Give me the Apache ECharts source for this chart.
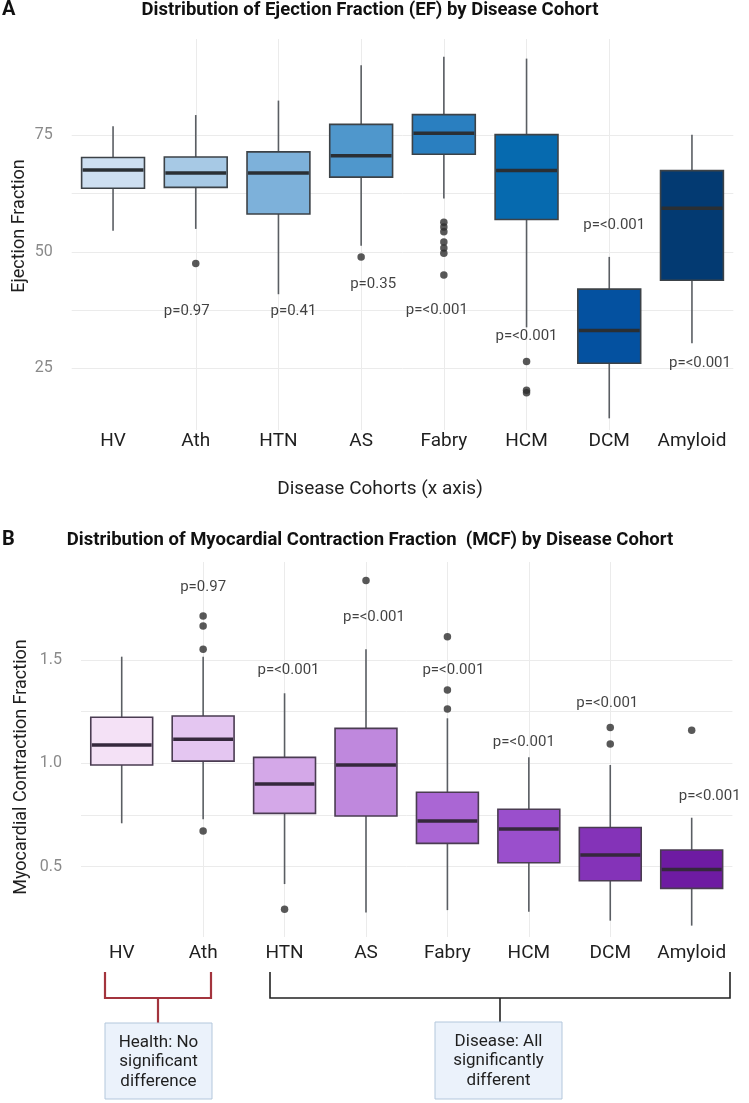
<!DOCTYPE html>
<html>
<head>
<meta charset="utf-8">
<title>EF and MCF by disease cohort</title>
<script src="https://cdn.jsdelivr.net/npm/echarts@6/dist/echarts.min.js"></script>
<style>
  html, body { margin: 0; padding: 0; background: #fff; }
  #chart { width: 749px; height: 1103px; }
</style>
</head>
<body>
<div id="chart"></div>
<script>
const cohorts = ['HV', 'Ath', 'HTN', 'AS', 'Fabry', 'HCM', 'DCM', 'Amyloid'];

// A: ejection fraction, [whisker low, Q1, median, Q3, whisker high]
const efBoxes = [
  [54.5, 63.6, 67.5, 70.2, 76.9],
  [54.9, 63.8, 66.9, 70.3, 79.3],
  [40.9, 58.1, 66.9, 71.4, 82.4],
  [51.3, 66.0, 70.6, 77.3, 90.0],
  [61.4, 70.9, 75.4, 79.4, 91.8],
  [33.8, 56.9, 67.4, 75.1, 91.4],
  [14.3, 26.1, 33.1, 42.0, 48.9],
  [30.4, 43.9, 59.3, 67.4, 75.1]
];
const efOutliers = [
  ['Ath', 47.5], ['AS', 48.9],
  ['Fabry', 56.3], ['Fabry', 55.3], ['Fabry', 54.3], ['Fabry', 52.1],
  ['Fabry', 50.8], ['Fabry', 49.7], ['Fabry', 45.0],
  ['HCM', 26.5], ['HCM', 20.3], ['HCM', 19.8]
];
const pCohorts = ['Ath', 'HTN', 'AS', 'Fabry', 'HCM', 'DCM', 'Amyloid'];
const efPText = ['p=0.97', 'p=0.41', 'p=0.35', 'p=<0.001', 'p=<0.001', 'p=<0.001', 'p=<0.001'];
const efPY = [37.3, 37.3, 43.1, 37.4, 31.8, 55.7, 26.1];
const efTicks = [12.5, 25, 37.5, 50, 62.5, 75, 87.5];
const efTickLabels = [25, 50, 75];

// B: myocardial contraction fraction
const mcfBoxes = [
  [0.710, 0.992, 1.089, 1.223, 1.516],
  [0.729, 1.011, 1.116, 1.229, 1.516],
  [0.416, 0.758, 0.900, 1.029, 1.339],
  [0.278, 0.745, 0.992, 1.169, 1.552],
  [0.290, 0.613, 0.721, 0.860, 1.218],
  [0.282, 0.519, 0.682, 0.778, 1.029],
  [0.239, 0.432, 0.557, 0.690, 0.992],
  [0.215, 0.395, 0.487, 0.581, 0.737]
];
const mcfOutliers = [
  ['Ath', 1.713], ['Ath', 1.664], ['Ath', 1.552], ['Ath', 0.673],
  ['HTN', 0.294], ['AS', 1.885],
  ['Fabry', 1.613], ['Fabry', 1.355], ['Fabry', 1.263],
  ['DCM', 1.173], ['DCM', 1.094], ['Amyloid', 1.160]
];
const mcfPText = ['p=0.97', 'p=<0.001', 'p=<0.001', 'p=<0.001', 'p=<0.001', 'p=<0.001', 'p=<0.001'];
const mcfPY = [1.853, 1.452, 1.707, 1.452, 1.100, 1.293, 0.842];
const mcfTicks = [0.25, 0.5, 0.75, 1.0, 1.25, 1.5, 1.75];
const mcfTickLabels = [0.5, 1.0, 1.5];

// styling
const blues = ['#cddff1', '#a7c9e5', '#7db1da', '#4f97cc', '#2a7fc0', '#066aaf', '#0451a0', '#033a72'];
const purples = ['#f4e1f6', '#e4c6f1', '#d4a8e8', '#bf88dd', '#aa66d4', '#9a4fcc', '#8433b8', '#6e1ba2'];
// horizontal nudge of the p labels (px)
const efPShift = [-9, 15, 12, -7, 0, 5, 8];
const mcfPShift = [0, 4, 8, 6, -5, -3, 18];

const font = 'Roboto, "Noto Sans", sans-serif';
const gridColor = '#ebebeb';

const chart = echarts.init(document.getElementById('chart'));

function boxRender(colors, stroke, medianColor) {
  return function (params, api) {
    const x = api.value(0);
    const low = api.coord([x, api.value(1)]);
    const q1 = api.coord([x, api.value(2)]);
    const med = api.coord([x, api.value(3)]);
    const q3 = api.coord([x, api.value(4)]);
    const high = api.coord([x, api.value(5)]);
    const half = api.size([1, 0])[0] * 0.38;
    const cx = q1[0];
    return {
      type: 'group',
      children: [
        { type: 'line', shape: { x1: cx, y1: high[1], x2: cx, y2: q3[1] }, style: { stroke: '#5a5e63', lineWidth: 1.6 } },
        { type: 'line', shape: { x1: cx, y1: q1[1], x2: cx, y2: low[1] }, style: { stroke: '#5a5e63', lineWidth: 1.6 } },
        { type: 'rect', shape: { x: cx - half, y: q3[1], width: half * 2, height: q1[1] - q3[1] },
          style: { fill: colors[params.dataIndex], stroke: stroke, lineWidth: 1.6 } },
        { type: 'line', shape: { x1: cx - half + 1, y1: med[1], x2: cx + half - 1, y2: med[1] },
          style: { stroke: medianColor, lineWidth: 3.5 } }
      ]
    };
  };
}

function pLabels(texts, ys, shifts, gi) {
  return {
    type: 'scatter',
    xAxisIndex: gi * 2,
    yAxisIndex: gi,
    symbolSize: 1,
    itemStyle: { color: 'rgba(0,0,0,0)' },
    z: 5,
    silent: true,
    data: pCohorts.map((c, i) => ({
      name: texts[i],
      value: [c, ys[i]],
      label: { offset: [shifts[i], 0] }
    })),
    label: {
      show: true, position: 'inside', formatter: '{b}',
      color: '#111', fontSize: 15, fontFamily: font
    }
  };
}

function catAxis(gi, labelMargin) {
  return {
    type: 'category', gridIndex: gi, data: cohorts,
    axisLine: { show: false }, axisTick: { show: false }, splitLine: { show: false },
    axisLabel: { interval: 0, color: '#1f1f1f', fontSize: 19, fontFamily: font, margin: labelMargin }
  };
}

function vGridAxis(gi) {
  return {
    type: 'value', gridIndex: gi, min: -0.5, max: 7.5,
    axisLine: { show: false }, axisLabel: { show: false },
    axisTick: { show: false, customValues: [0, 1, 2, 3, 4, 5, 6, 7] },
    splitLine: { show: true, showMinLine: false, showMaxLine: false, lineStyle: { color: gridColor, width: 1 } }
  };
}

function valAxis(gi, min, max, ticks, labels, fmt) {
  return {
    type: 'value', gridIndex: gi, min: min, max: max,
    axisLine: { show: false },
    axisTick: { show: false, customValues: ticks },
    axisLabel: { customValues: labels, color: '#8a8a8a', fontSize: 16, fontFamily: font, margin: 19, formatter: fmt },
    splitLine: { show: true, showMinLine: false, showMaxLine: false, lineStyle: { color: gridColor, width: 1 } }
  };
}

const option = {
  backgroundColor: '#fff',
  animation: false,
  grid: [
    { left: 71.7, width: 661.6, top: 39, height: 391 },
    { left: 81, width: 651.4, top: 562, height: 375 }
  ],
  xAxis: [catAxis(0, 2), vGridAxis(0), catAxis(1, 7), vGridAxis(1)],
  yAxis: [
    valAxis(0, 11.8, 95.6, efTicks, efTickLabels, v => String(v)),
    valAxis(1, 0.160, 1.974, mcfTicks, mcfTickLabels, v => v.toFixed(1))
  ],
  series: [
    {
      type: 'custom', xAxisIndex: 0, yAxisIndex: 0, z: 2,
      renderItem: boxRender(blues, '#3c4247', '#2a2f34'),
      data: efBoxes.map((b, i) => [i].concat(b))
    },
    {
      type: 'scatter', xAxisIndex: 0, yAxisIndex: 0, z: 3,
      symbolSize: 7.5, itemStyle: { color: '#2e2e2e' },
      data: efOutliers
    },
    pLabels(efPText, efPY, efPShift, 0),
    {
      type: 'custom', xAxisIndex: 2, yAxisIndex: 1, z: 2,
      renderItem: boxRender(purples, '#4a3c52', '#35283d'),
      data: mcfBoxes.map((b, i) => [i].concat(b))
    },
    {
      type: 'scatter', xAxisIndex: 2, yAxisIndex: 1, z: 3,
      symbolSize: 7.5, itemStyle: { color: '#2e2e2e' },
      data: mcfOutliers
    },
    pLabels(mcfPText, mcfPY, mcfPShift, 1)
  ],
  graphic: [
    { type: 'text', left: 2, top: 0, style: { text: 'A', font: 'bold 20px ' + font, fill: '#111' } },
    { type: 'text', x: 370, y: 10, style: { text: 'Distribution of Ejection Fraction (EF) by Disease Cohort',
      font: 'bold 18.5px ' + font, fill: '#111', align: 'center', verticalAlign: 'middle' } },
    { type: 'text', x: 19, y: 226, rotation: Math.PI / 2, style: { text: 'Ejection Fraction',
      font: '18px ' + font, fill: '#1f1f1f', align: 'center', verticalAlign: 'middle' } },
    { type: 'text', x: 380, y: 489, style: { text: 'Disease Cohorts (x axis)',
      font: '19px ' + font, fill: '#1f1f1f', align: 'center', verticalAlign: 'middle' } },
    { type: 'text', left: 2, top: 530, style: { text: 'B', font: 'bold 20px ' + font, fill: '#111' } },
    { type: 'text', x: 370, y: 540, style: { text: 'Distribution of Myocardial Contraction Fraction  (MCF) by Disease Cohort',
      font: 'bold 18.5px ' + font, fill: '#111', align: 'center', verticalAlign: 'middle' } },
    { type: 'text', x: 21, y: 767, rotation: Math.PI / 2, style: { text: 'Myocardial Contraction Fraction',
      font: '18px ' + font, fill: '#1f1f1f', align: 'center', verticalAlign: 'middle' } },
    // group brackets
    { type: 'polyline', shape: { points: [[105, 972], [105, 998], [211, 998], [211, 972]] },
      style: { stroke: '#a3343d', lineWidth: 2.2, fill: null } },
    { type: 'line', shape: { x1: 158, y1: 998, x2: 158, y2: 1023 }, style: { stroke: '#a3343d', lineWidth: 2.2 } },
    { type: 'polyline', shape: { points: [[270, 972], [270, 998], [730, 998], [730, 972]] },
      style: { stroke: '#222', lineWidth: 1.6, fill: null } },
    { type: 'line', shape: { x1: 500, y1: 998, x2: 500, y2: 1022 }, style: { stroke: '#222', lineWidth: 1.6 } },
    { type: 'rect', shape: { x: 105, y: 1023, width: 107, height: 76 },
      style: { fill: '#ebf2fb', stroke: '#b3c7dc', lineWidth: 1 } },
    { type: 'text', x: 158.5, y: 1062, style: { text: 'Health: No\nsignificant\ndifference',
      font: '17px ' + font, lineHeight: 19.5, fill: '#1f1f1f', align: 'center', verticalAlign: 'middle' } },
    { type: 'rect', shape: { x: 435, y: 1022, width: 127, height: 77 },
      style: { fill: '#ebf2fb', stroke: '#b3c7dc', lineWidth: 1 } },
    { type: 'text', x: 498.5, y: 1061, style: { text: 'Disease: All\nsignificantly\ndifferent',
      font: '17px ' + font, lineHeight: 19.5, fill: '#1f1f1f', align: 'center', verticalAlign: 'middle' } }
  ]
};

chart.setOption(option);
</script>
</body>
</html>
